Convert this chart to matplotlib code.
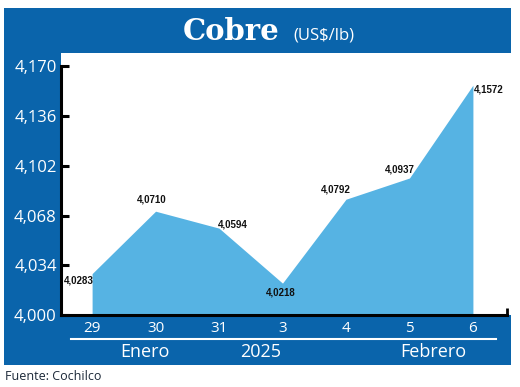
import matplotlib.pyplot as plt
from matplotlib.patches import Rectangle
from matplotlib.lines import Line2D

# data
dias = ['29', '30', '31', '3', '4', '5', '6']
precios = [4.0283, 4.0710, 4.0594, 4.0218, 4.0792, 4.0937, 4.1572]
y_ticks = [4.000, 4.034, 4.068, 4.102, 4.136, 4.170]
y_tick_labels = ['4,000', '4,034', '4,068', '4,102', '4,136', '4,170']
meses = ['Enero', '2025', 'Febrero']

# label offsets in pixels (dx, dy) and alignment for each point
label_offsets = [(-28, -7, 'left'), (-4, 12, 'center'), (14, 4, 'center'),
                 (-2, -9, 'center'), (-10, 10, 'center'), (-10, 9, 'center'),
                 (1, -4, 'left')]

AZUL = '#0a64ab'
CELESTE = '#56b3e3'
W, H = 520, 387


def fx(px):
    return px / W


def fy(py):
    return 1 - py / H


fig = plt.figure(figsize=(5.2, 3.87), dpi=100)
fig.patch.set_facecolor('white')

# blue frame behind everything
fig.add_artist(Rectangle((fx(4), fy(365)), fx(511) - fx(4), fy(8) - fy(365),
                         transform=fig.transFigure, facecolor=AZUL,
                         edgecolor='none', zorder=-1))

# plot area
ax = fig.add_axes([fx(61), fy(315), fx(511) - fx(61), fy(53) - fy(315)])
ax.set_facecolor('white')

x = list(range(len(dias)))
ax.fill_between(x, 4.0, precios, color=CELESTE, linewidth=0, zorder=1)

ax.set_xlim(-0.49, 6.6)
ax.set_ylim(4.0, 4.0 + 262 / 1462)

for i, v in enumerate(precios):
    dx, dy, ha = label_offsets[i]
    ax.annotate(f"{v:.4f}".replace('.', ','), (i, v), xytext=(dx, dy),
                textcoords='offset pixels', ha=ha, va='center',
                fontsize=7, fontweight='bold',
                family='Liberation Sans', color='#111111', zorder=4)

for s in ['top', 'right']:
    ax.spines[s].set_visible(False)
ax.spines['left'].set_linewidth(2.2)
ax.spines['left'].set_bounds(4.0, 4.170)
ax.spines['bottom'].set_linewidth(2.2)
ax.spines['bottom'].set_bounds(-0.49, 6.537)
ax.plot([6.537, 6.537], [4.0, 4.0045], color='black', lw=2, solid_capstyle='butt',
        clip_on=False)

ax.set_yticks(y_ticks)
ax.set_yticklabels(y_tick_labels)
ax.tick_params(axis='y', direction='in', length=6, width=2.2, color='black',
               labelcolor='white', labelsize=12, pad=3)
for t in ax.get_yticklabels():
    t.set_family('Open Sans')

ax.set_xticks(x)
ax.set_xticklabels(dias)
ax.tick_params(axis='x', length=0, labelcolor='white', labelsize=11, pad=4)
for t in ax.get_xticklabels():
    t.set_family('Open Sans')

# title
fig.text(fx(280), fy(40), 'Cobre', ha='right', va='baseline', color='white',
         fontsize=21, fontweight='bold', family='DejaVu Serif')
fig.text(fx(293), fy(39), '(US$/lb)', ha='left', va='baseline', color='white',
         fontsize=12, family='Open Sans')

# month line and labels
fig.add_artist(Line2D([fx(71), fx(496)], [fy(339), fy(339)], color='white',
                      lw=1.5, transform=fig.transFigure))
for texto, px in zip(meses, [145, 261, 433]):
    fig.text(fx(px), fy(352), texto, ha='center', va='center', color='white',
             fontsize=13, family='Open Sans')

fig.text(fx(5), fy(377), 'Fuente: Cochilco', ha='left', va='center',
         color='#1b2838', fontsize=9, family='Open Sans')

fig.savefig('out.png', dpi=100)
